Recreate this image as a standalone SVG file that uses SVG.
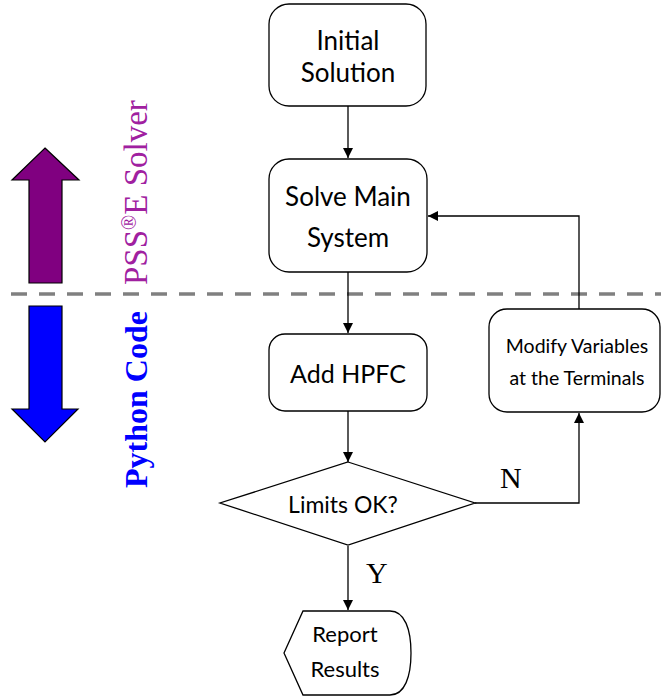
<svg xmlns="http://www.w3.org/2000/svg" width="661" height="698" viewBox="0 0 661 698">
  <style>
    .box { fill: #ffffff; stroke: #000000; stroke-width: 1.3; }
    .lbl { font-family: Lato, "Open Sans", sans-serif; fill: #000000; text-anchor: middle; }
    .big { font-size: 26px; }
    .mid { font-size: 22px; }
    .sml { font-size: 19.5px; }
    .edge { fill: none; stroke: #000000; stroke-width: 1.3; marker-end: url(#tip); }
    .yn { font-family: "Liberation Serif", "Times New Roman", serif; font-size: 30px; fill: #000000; }
  </style>
  <defs>
    <marker id="tip" viewBox="0 0 10 10" refX="10" refY="5" markerWidth="10" markerHeight="10" markerUnits="userSpaceOnUse" orient="auto">
      <path d="M0,0 L10,5 L0,10 Z" fill="#000000"/>
    </marker>
  </defs>
  <rect width="661" height="698" fill="#ffffff"/>

  <!-- boundary between the solver and the scripted part -->
  <line x1="11" y1="294" x2="661" y2="294" stroke="#808080" stroke-width="3.5" stroke-dasharray="16 12"/>

  <!-- side arrows and captions -->
  <g id="solver-side">
    <path d="M45,148 L79,180 L62,180 L62,283 L29,283 L29,180 L12,180 Z" fill="#800080" stroke="#000000" stroke-width="1.2"/>
    <text transform="translate(147,285) rotate(-90)" font-family="'Liberation Serif', 'Times New Roman', serif" font-size="33" fill="#a020a0">PSS<tspan font-size="20" baseline-shift="super">®</tspan>E Solver</text>
  </g>
  <g id="python-side">
    <path d="M29,306 L62,306 L62,409 L78,409 L45,442 L12,409 L29,409 Z" fill="#0000ff" stroke="#000000" stroke-width="1.2"/>
    <text transform="translate(147,488) rotate(-90)" font-family="'Liberation Serif', 'Times New Roman', serif" font-size="32" font-weight="bold" fill="#0000ff">Python Code</text>
  </g>

  <!-- connectors -->
  <g id="connectors">
    <path class="edge" d="M348,106 L348,158"/>
    <path class="edge" d="M348,272 L348,333"/>
    <path class="edge" d="M348,411 L348,462"/>
    <path class="edge" d="M475,503 L579,503 L579,413"/>
    <path class="edge" d="M579,309 L579,216 L428,216"/>
    <path class="edge" d="M348,546 L348,610"/>
    <text class="yn" x="500" y="488">N</text>
    <text class="yn" x="366" y="583">Y</text>
  </g>

  <g id="initial-solution">
    <rect class="box" x="269" y="4" width="157" height="102" rx="20"/>
    <text class="lbl big" x="348" y="50">Initial</text>
    <text class="lbl big" x="348" y="82">Solution</text>
  </g>

  <g id="solve-main-system">
    <rect class="box" x="269" y="159" width="158" height="113" rx="20"/>
    <text class="lbl big" x="348" y="206">Solve Main</text>
    <text class="lbl big" x="348" y="247">System</text>
  </g>

  <g id="add-hpfc">
    <rect class="box" x="269" y="334" width="158" height="77" rx="16"/>
    <text class="lbl" font-size="25" x="348" y="383">Add HPFC</text>
  </g>

  <g id="modify-variables">
    <rect class="box" x="489" y="309" width="171" height="103" rx="18"/>
    <text class="lbl sml" x="577" y="353">Modify Variables</text>
    <text class="lbl sml" x="577" y="385">at the Terminals</text>
  </g>

  <g id="limits-ok">
    <polygon class="box" points="348,462 475,503 348,545 220,503"/>
    <text class="lbl" font-size="23" x="343" y="513">Limits OK?</text>
  </g>

  <g id="report-results">
    <path class="box" d="M303,611 L390,611 C405,611 411,630 411,653 C411,676 405,695 390,695 L303,695 L284,653 Z"/>
    <text class="lbl mid" x="345" y="642">Report</text>
    <text class="lbl mid" x="345" y="677">Results</text>
  </g>
</svg>
